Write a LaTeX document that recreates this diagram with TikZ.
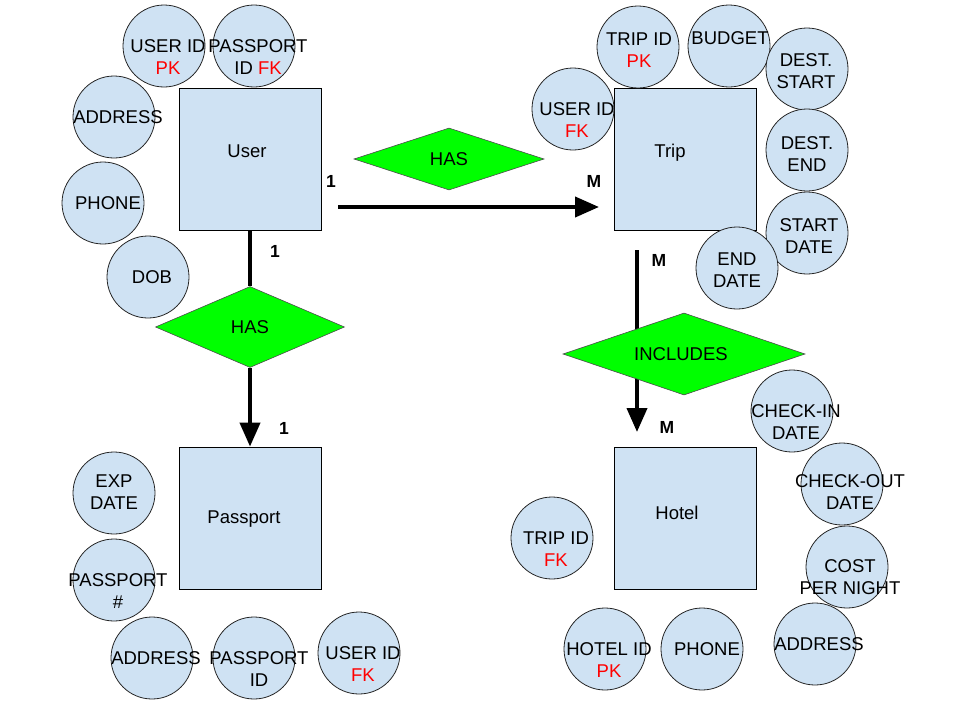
\documentclass[tikz,border=0pt]{standalone}
\usepackage{fontspec}
\setmainfont{Liberation Sans}
\usetikzlibrary{shapes.geometric,arrows.meta}
\definecolor{attrblue}{HTML}{CFE2F3}
\definecolor{relgreen}{HTML}{00FF00}
\definecolor{keyred}{HTML}{FF0000}

\begin{document}
\begin{tikzpicture}[x=1pt, y=-1pt,
  ent/.style = {draw, fill=attrblue, minimum size=142pt, inner sep=0pt, line width=0.8pt},
  attr/.style = {draw=black!85, fill=attrblue, circle, minimum size=82pt, inner sep=0pt, line width=0.8pt},
  rel/.style = {draw=black!70, fill=relgreen, diamond, inner sep=0pt, line width=0.6pt, font=\fontsize{18.5}{22}\selectfont},
  txt/.style = {font=\fontsize{18.5}{22}\selectfont, align=center, inner sep=0pt},
  card/.style = {font=\fontsize{17.5}{20}\selectfont\bfseries, inner sep=0pt},
  link/.style = {line width=4pt, -{Triangle[length=24pt,width=20pt]}},
  key/.style = {text=keyred}]
\useasboundingbox (0,0) rectangle (960,720);

% entities
\node[ent] (user) at (250,159) {};
\node[ent] (trip) at (685.5,159) {};
\node[ent] (passport) at (250,518) {};
\node[ent] (hotel) at (685.5,518) {};
\node[txt, anchor=base] (user-t) at (247,157) {User};
\node[txt, anchor=base] (trip-t) at (670,157) {Trip};
\node[txt, anchor=base] (passport-t) at (244,523) {Passport};
\node[txt, anchor=base] (hotel-t) at (677,519) {Hotel};

% connectors
\coordinate (u-out) at (338,207);
\coordinate (t-in) at (599,207);
\coordinate (t-out) at (637,250);
\coordinate (h-in) at (637,432);
\draw[link] (u-out) -- (t-in);
\draw[link] (t-out) -- (h-in);

% relationships
\node[rel, minimum width=190pt, minimum height=62pt] (has1) at (449,159) {HAS};
\node[rel, minimum width=189pt, minimum height=81pt] (has2) at (250,327) {HAS};
\node[rel, minimum width=242pt, minimum height=82pt] (incl) at (684,354) {};
\node[txt] (incl-t) at (681,354) {INCLUDES};
\draw[line width=4pt] (user.south) -- (has2.north);
\draw[link] (has2.south) -- (passport.north);

% cardinalities
\node[card] (c1) at (331,181) {1};
\node[card] (c2) at (594,181) {M};
\node[card] (c3) at (275,251) {1};
\node[card] (c4) at (284,428) {1};
\node[card] (c5) at (659,260) {M};
\node[card] (c6) at (667,427) {M};

% attributes of User
\node[attr] (uid) at (164,46) {};
\node[attr] (upid) at (254,46) {};
\node[attr] (uaddr) at (114,117) {};
\node[attr] (uphone) at (103,203) {};
\node[attr] (udob) at (148,277) {};
% attributes of Passport
\node[attr] (pexp) at (114,493) {};
\node[attr] (pnum) at (114,580) {};
\node[attr] (paddr) at (152,658) {};
\node[attr] (ppid) at (254,658) {};
\node[attr] (puid) at (359,653) {};
% attributes of Trip
\node[attr] (tuid) at (573,109) {};
\node[attr] (ttid) at (638,47) {};
\node[attr] (tbud) at (729,46) {};
\node[attr] (tds) at (807,69) {};
\node[attr] (tde) at (807,150) {};
\node[attr] (tsd) at (807,233) {};
\node[attr] (ted) at (737,268) {};
% attributes of Hotel
\node[attr] (htid) at (552,538) {};
\node[attr] (hhid) at (605,649) {};
\node[attr] (hphone) at (702,649) {};
\node[attr] (haddr) at (815,644) {};
\node[attr] (hcin) at (792,411) {};
\node[attr] (hcout) at (842,484) {};
\node[attr] (hcost) at (847,567) {};

% attribute texts
\node[txt] (uid-t) at (168,57) {USER ID\\\textcolor{keyred}{PK}};
\node[txt] (upid-t) at (258,57) {PASSPORT\\ID \textcolor{keyred}{FK}};
\node[txt] (uaddr-t) at (118,117) {ADDRESS};
\node[txt] (uphone-t) at (108,203) {PHONE};
\node[txt] (udob-t) at (152,277) {DOB};

\node[txt] (pexp-t) at (114,492) {EXP\\DATE};
\node[txt] (pnum-t) at (118,591) {PASSPORT\\\#};
\node[txt] (paddr-t) at (156,658) {ADDRESS};
\node[txt] (ppid-t) at (259,669) {PASSPORT\\ID};
\node[txt] (puid-t) at (363,664) {USER ID\\\textcolor{keyred}{FK}};

\node[txt] (tuid-t) at (577,120) {USER ID\\\textcolor{keyred}{FK}};
\node[txt] (ttid-t) at (639,50) {TRIP ID\\\textcolor{keyred}{PK}};
\node[txt] (tbud-t) at (730,38) {BUDGET};
\node[txt] (tds-t) at (806,71) {DEST.\\START};
\node[txt] (tde-t) at (807,154) {DEST.\\END};
\node[txt] (tsd-t) at (809,236) {START\\DATE};
\node[txt] (ted-t) at (737,270) {END\\DATE};

\node[txt] (htid-t) at (556,549) {TRIP ID\\\textcolor{keyred}{FK}};
\node[txt] (hhid-t) at (609,660) {HOTEL ID\\\textcolor{keyred}{PK}};
\node[txt] (hphone-t) at (707,649) {PHONE};
\node[txt] (haddr-t) at (819,644) {ADDRESS};
\node[txt] (hcin-t) at (796,422) {CHECK-IN\\DATE};
\node[txt] (hcout-t) at (850,492) {CHECK-OUT\\DATE};
\node[txt] (hcost-t) at (850,577) {COST\\PER NIGHT};
\end{tikzpicture}
\end{document}
